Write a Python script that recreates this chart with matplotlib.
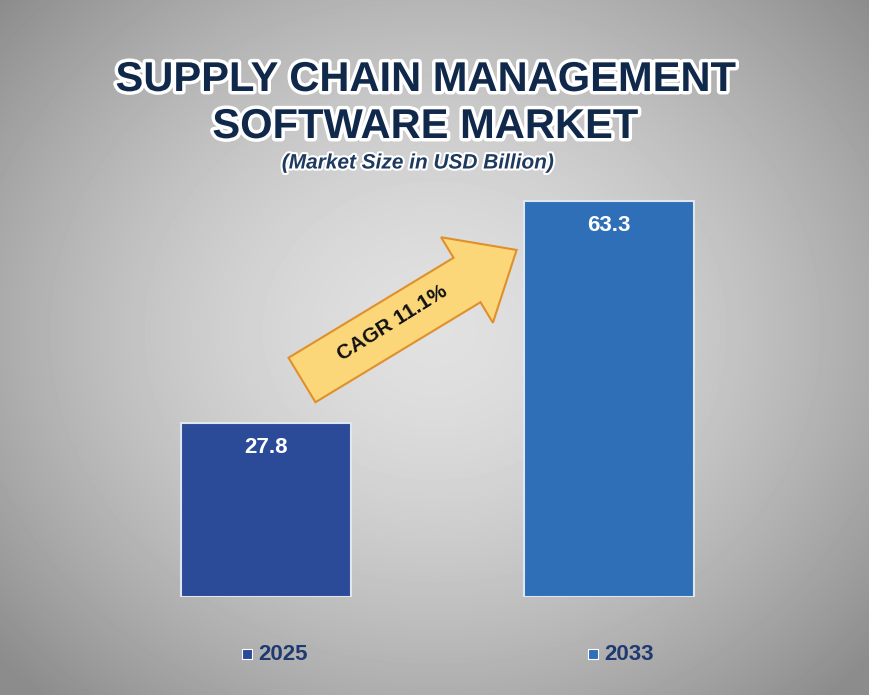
import numpy as np
import matplotlib.pyplot as plt
import matplotlib.patheffects as pe
from matplotlib.patches import FancyArrow

plt.rcParams['font.family'] = ['Liberation Sans', 'DejaVu Sans']

years = ["2025", "2033"]
values = [27.8, 63.3]
bar_colors = ["#2b4b98", "#2f6fb8"]
cagr_label = "CAGR 11.1%"

fig = plt.figure(figsize=(8.7, 6.95), dpi=100)

# background with pixel coordinates
bg = fig.add_axes([0, 0, 1, 1])
bg.set_xlim(0, 870)
bg.set_ylim(695, 0)
bg.axis("off")
yy, xx = np.mgrid[0:695, 0:870]
r = np.sqrt(((xx - 435) / 520) ** 2 + ((yy - 330) / 450) ** 2)
shade = np.clip(0.88 - 0.28 * r ** 1.6, 0.55, 0.9)
bg.imshow(shade, cmap="gray", vmin=0, vmax=1, extent=(0, 870, 695, 0), aspect="auto", zorder=0)

# bar axes
ax = fig.add_axes([0, 98 / 695, 1, 438 / 695])
ax.set_xlim(-266 / 343, 604 / 343)
ax.set_ylim(0, 70)
ax.axis("off")
x = np.arange(len(years))
ax.bar(x, values, width=0.496, color=bar_colors, edgecolor="#dfe6f0", linewidth=1.5, zorder=2)
for xi, v in zip(x, values):
    ax.text(xi, v - 2.2, f"{v}", ha="center", va="top", color="white",
            fontsize=16, fontweight="bold", zorder=3)

# CAGR arrow
bg.add_patch(FancyArrow(302, 380, 165, -100, width=52, head_width=100, head_length=58,
                        length_includes_head=False, facecolor="#fbd77a",
                        edgecolor="#e0902a", linewidth=1.5, zorder=4))
bg.text(392, 323, cagr_label, rotation=32, ha="center", va="center",
        fontsize=15, fontweight="bold", color="#111111", zorder=5)

# titles
glow = [pe.withStroke(linewidth=5, foreground="white")]
for txt, yp in [("SUPPLY CHAIN MANAGEMENT", 80), ("SOFTWARE MARKET", 127)]:
    bg.text(425, yp, txt, ha="center", va="center", fontsize=30, fontweight="bold",
            color="#10284a", path_effects=glow, zorder=5)
bg.text(418, 163, "(Market Size in USD Billion)", ha="center", va="center", fontsize=15,
        fontweight="bold", style="italic", color="#1f3a5f",
        path_effects=[pe.withStroke(linewidth=3, foreground="white")], zorder=5)

# legend
for lx, yr, c in [(250, years[0], bar_colors[0]), (596, years[1], bar_colors[1])]:
    bg.add_patch(plt.Rectangle((lx - 8, 649), 10, 10, facecolor=c, edgecolor="white", lw=0.8, zorder=5))
    bg.text(lx + 8, 655, yr, ha="left", va="center", fontsize=16, fontweight="bold",
            color="#1f3a70", zorder=5)

fig.savefig("out.png", dpi=100)
